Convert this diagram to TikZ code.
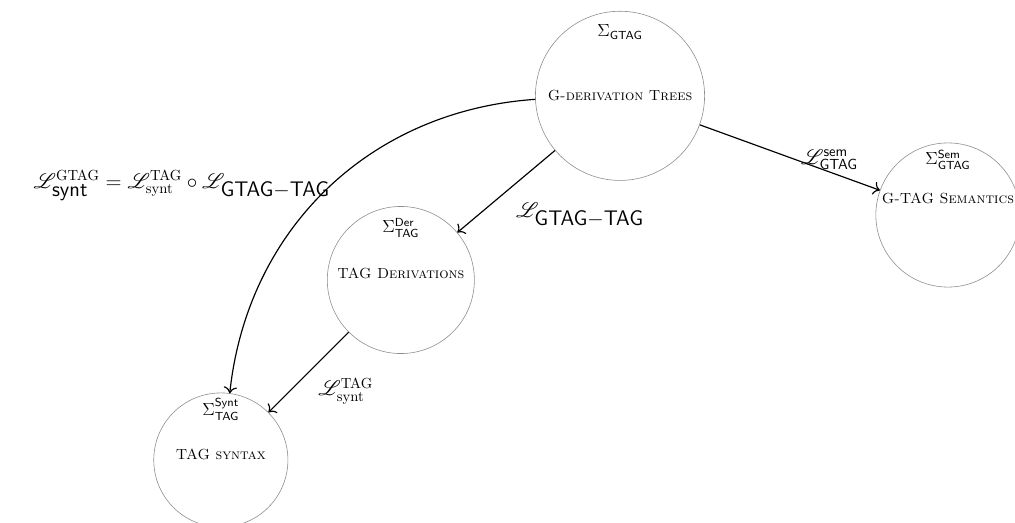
\documentclass[tikz,border=0pt]{standalone}
\usepackage{amsmath,amssymb,mathrsfs}
\usepackage{tikz}
\usetikzlibrary{arrows.meta,positioning}

\begin{document}
\begin{tikzpicture}[
    world/.style={circle, draw=black!45, line width=0.4pt, minimum size=#1, inner sep=0pt},
    sig/.style={anchor=north, inner sep=1pt, font=\large},
    title/.style={inner sep=1pt},
    lex/.style={font=\Large},
    fl/.style={-{To[scale=1.3]}, thick}
  ]
  \useasboundingbox (0,0) rectangle (24.36,-12.53);
  % interpretations
  \node[world=4.06cm,
        label={[sig, yshift=-8pt]north:$\Sigma_{\mathsf{GTAG}}$},
        label={[title]center:\textsc{G-derivation Trees}}] (gdt) at (14.88,-2.30) {};
  \node[world=3.46cm,
        label={[sig, yshift=-4pt]north:$\Sigma^{\mathsf{Sem}}_{\mathsf{GTAG}}$},
        label={[title, yshift=11.5pt]center:\textsc{G-TAG Semantics}}] (sem) at (22.75,-5.16) {};
  \node[world=3.53cm,
        label={[sig, yshift=-7pt]north:$\Sigma^{\mathsf{Der}}_{\mathsf{TAG}}$},
        label={[title, yshift=4.8pt]center:\textsc{TAG Derivations}}] (der) at (9.62,-6.72) {};
  \node[world=3.22cm,
        label={[sig, yshift=-3pt]north:$\Sigma^{\mathsf{Synt}}_{\mathsf{TAG}}$},
        label={[title, yshift=4pt]center:\textsc{TAG syntax}}] (syn) at (5.30,-11.04) {};
  % lexicons
  \draw[fl] (gdt) -- node[lex, pos=0.72, above, inner sep=1pt] {$\mathscr{L}^{\mathsf{sem}}_{\mathsf{GTAG}}$} (sem);
  \draw[fl] (gdt) -- node[lex, pos=0.5, below right, xshift=3pt, yshift=-4pt] {$\mathscr{L}_{\mbox{\sffamily GTAG$-$TAG}}$} (der);
  \draw[fl] (gdt) to[bend right=40] node[lex, pos=0.49, left, inner sep=0pt] {$\mathscr{L}^{\text{GTAG}}_{\mbox{\sffamily synt}} = \mathscr{L}^{\text{TAG}}_{\text{synt}} \circ \mathscr{L}_{\mbox{\sffamily GTAG$-$TAG}}$} (syn);
  \draw[fl] (der) -- node[lex, midway, below right, xshift=3pt] {$\mathscr{L}^{\text{TAG}}_{\text{synt}}$} (syn);
\end{tikzpicture}
\end{document}
